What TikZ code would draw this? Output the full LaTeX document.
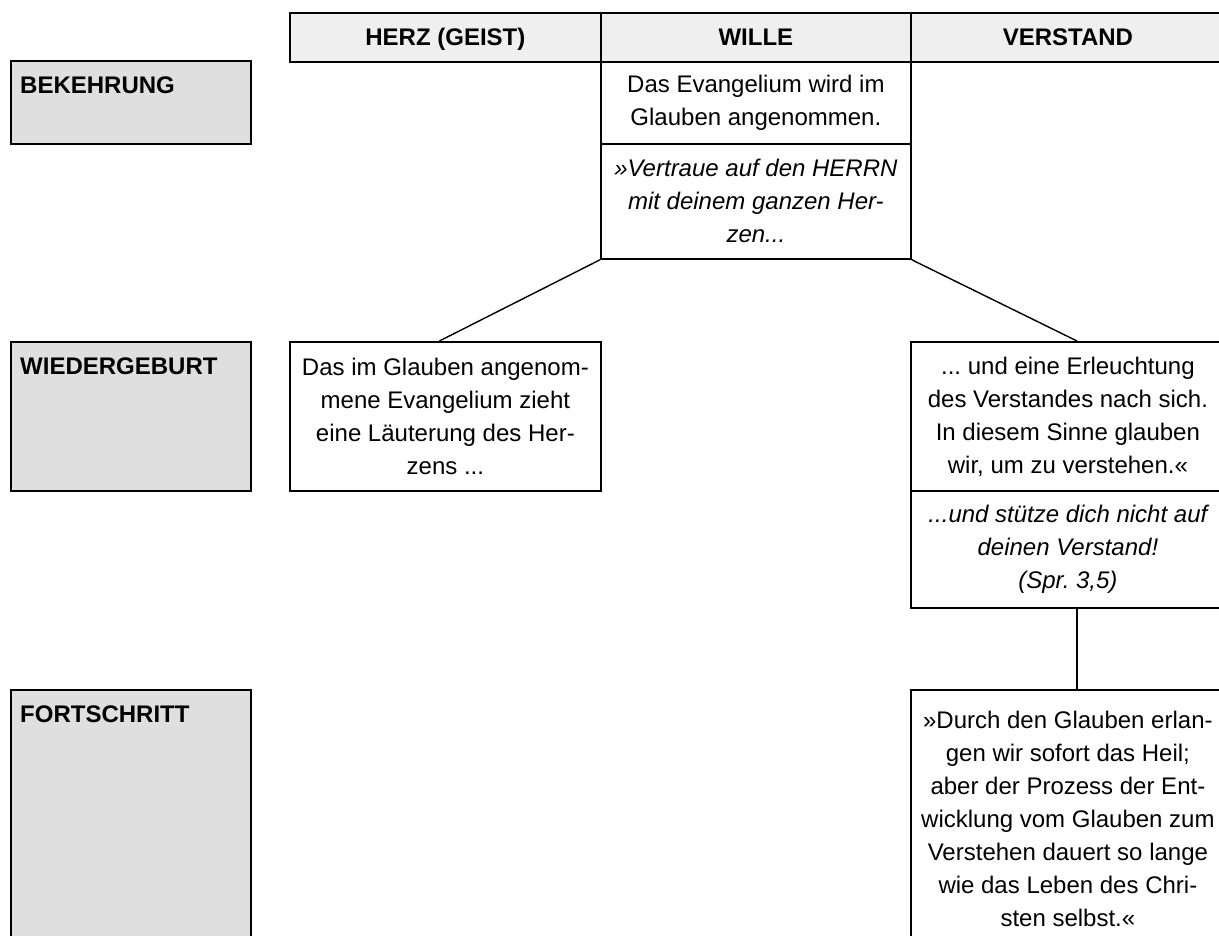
\documentclass[tikz,border=0pt]{standalone}
\usepackage{fontspec}
\setmainfont{Liberation Sans}
\frenchspacing
\newcommand*{\bodyfont}{\fontsize{24}{33}\selectfont}
\definecolor{headgray}{HTML}{EFEFEF}
\definecolor{phasegray}{HTML}{DFDFDF}
\tikzset{
  frame/.style = {draw = black, line width = 1.8pt, anchor = north west,
    inner sep = 0pt},
  headcell/.style = {frame, fill = headgray, minimum height = 49pt,
    text height = 17pt, text depth = 0pt, font = \bodyfont\bfseries},
  phasebox/.style = {frame, fill = phasegray, minimum width = 240pt},
  phaselabel/.style = {anchor = north west, inner sep = 0pt,
    font = \bodyfont\bfseries},
  textbox/.style = {frame, fill = white, align = center,
    font = \bodyfont},
  quotebox/.style = {textbox, font = \bodyfont\itshape},
  link/.style = {line width = 1.4pt}
}

\begin{document}
\begin{tikzpicture}[x = 1pt, y = -1pt]
  \useasboundingbox (0,0) rectangle (1219,936);
  \clip (0,0) rectangle (1219,936);

  % column heads
  \node[headcell, minimum width = 311pt] (herzhead) at (289,12) {HERZ (GEIST)};
  \node[headcell, minimum width = 310pt] (willehead) at (600,12) {WILLE};
  \node[headcell, minimum width = 314pt] (verstandhead) at (910,12) {VERSTAND};

  % phases on the left
  \foreach \name/\y/\h/\txt in {bekehrung/60/83/BEKEHRUNG,
      wiedergeburt/341/149/WIEDERGEBURT, fortschritt/689/259/FORTSCHRITT} {
    \node[phasebox, minimum height = \h pt] (\name) at (10,\y) {};
    \node[phaselabel] (\name-label)
      at ([xshift = 10pt, yshift = -17pt]\name.north west) {\txt};
  }

  % WILLE
  \node[textbox, minimum width = 310pt, minimum height = 82pt] (wille1)
    at (600,61) {Das Evangelium wird im\\Glauben angenommen.};
  \node[quotebox, minimum width = 310pt, minimum height = 115pt] (wille2)
    at (600,143) {»Vertraue auf den HERRN\\mit deinem ganzen Her-\\zen...};

  % HERZ
  \node[textbox, minimum width = 311pt, minimum height = 149pt] (herz1)
    at (289,341) {Das im Glauben angenom-\\mene Evangelium zieht\\eine
    Läuterung des Her-\\zens ...};

  % VERSTAND
  \node[textbox, minimum width = 314pt, minimum height = 149pt] (verstand1)
    at (910,341) {... und eine Erleuchtung\\des Verstandes nach sich.\\In
    diesem Sinne glauben\\wir, um zu verstehen.«};
  \node[quotebox, minimum width = 314pt, minimum height = 117pt] (verstand2)
    at (910,490) {...und stütze dich nicht auf\\deinen Verstand!\\(Spr. 3,5)};
  \node[textbox, minimum width = 314pt, minimum height = 259pt] (verstand3)
    at (910,689) {»Durch den Glauben erlan-\\gen wir sofort das Heil;\\aber
    der Prozess der Ent-\\wicklung vom Glauben zum\\Verstehen dauert so
    lange\\wie das Leben des Chri-\\sten selbst.«};

  % links
  \draw[link] (wille2.south west) -- ([xshift = -6pt]herz1.north);
  \draw[link] (wille2.south east) -- ([xshift = 167pt]verstand1.north west);
  \draw[link] ([xshift = 167pt]verstand2.south west)
    -- ([xshift = 167pt]verstand3.north west);
\end{tikzpicture}
\end{document}
